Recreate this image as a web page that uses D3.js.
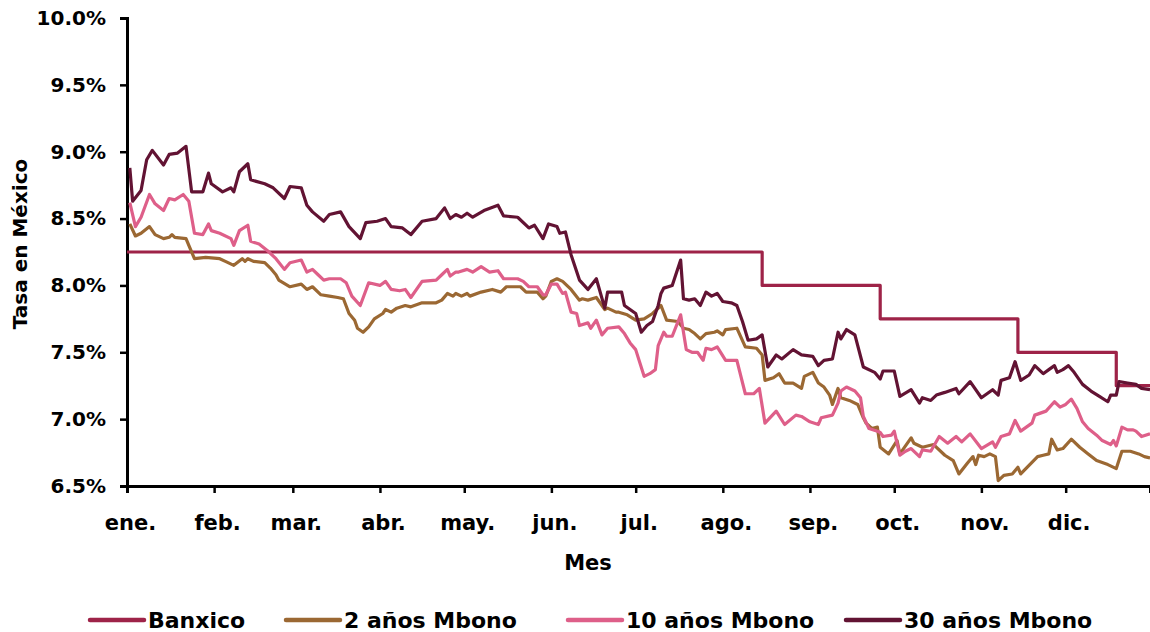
<!DOCTYPE html>
<html><head><meta charset="utf-8">
<script src="https://cdn.jsdelivr.net/npm/d3@7"></script>
<style>
body{margin:0;background:#fff}
svg{display:block}
text{font-family:"DejaVu Sans",sans-serif;font-weight:bold;fill:#000}
</style>
</head><body>
<svg id="c" width="1150" height="632"></svg>
<script>
// Categories: months (2019) and y tick values
const meses = ["ene.","feb.","mar.","abr.","may.","jun.","jul.","ago.","sep.","oct.","nov.","dic."];
const yTicks = [6.5,7.0,7.5,8.0,8.5,9.0,9.5,10.0];
const serieNombres = ["Banxico","2 años Mbono","10 años Mbono","30 años Mbono"];

// Day of year (2019) and rate (%) per series
const diasBanxico = [1,227,269,318,353,365];
const tasaBanxico = [8.25,8.00,7.75,7.50,7.25,7.25];

const dias2 = [2,4,6,9,11,14,16,17,18,22,23,25,29,34,36,39,42,43,44,46,50,52,54,55,59,63,65,67,70,73,76,78,80,82,83,85,87,89,92,93,95,97,100,102,106,111,113,115,117,118,120,122,123,127,131,134,136,141,143,147,149,150,152,154,156,159,162,163,165,168,171,172,175,176,179,182,185,188,191,193,197,199,201,203,205,207,210,211,213,214,218,221,225,227,228,231,233,235,238,241,242,245,247,249,251,252,254,255,258,261,263,264,266,268,269,272,275,276,280,281,284,288,292,295,297,300,302,303,304,306,308,310,311,313,316,318,319,325,327,329,330,332,334,337,340,343,346,350,353,355,358,361,363,365];
const tasa2 = [8.46,8.37,8.39,8.44,8.38,8.35,8.36,8.38,8.36,8.35,8.30,8.20,8.21,8.20,8.18,8.15,8.20,8.18,8.20,8.18,8.17,8.13,8.08,8.04,7.99,8.01,7.97,7.99,7.93,7.92,7.91,7.90,7.79,7.74,7.68,7.65,7.69,7.75,7.79,7.82,7.80,7.83,7.85,7.84,7.87,7.87,7.89,7.94,7.92,7.94,7.92,7.94,7.92,7.95,7.97,7.95,7.99,7.99,7.95,7.95,7.90,7.92,8.03,8.05,8.03,7.97,7.89,7.90,7.89,7.91,7.82,7.83,7.80,7.80,7.78,7.74,7.75,7.79,7.85,7.74,7.73,7.68,7.67,7.64,7.60,7.64,7.65,7.66,7.63,7.67,7.68,7.54,7.53,7.48,7.29,7.31,7.34,7.27,7.27,7.23,7.32,7.35,7.27,7.24,7.18,7.11,7.23,7.16,7.14,7.11,7.01,6.97,6.93,6.94,6.79,6.74,6.84,6.74,6.86,6.82,6.79,6.81,6.73,6.69,6.59,6.67,6.72,6.66,6.73,6.72,6.74,6.72,6.54,6.58,6.59,6.64,6.59,6.72,6.73,6.74,6.85,6.77,6.78,6.85,6.79,6.74,6.69,6.66,6.63,6.76,6.76,6.74,6.72,6.71];

const dias10 = [2,4,6,9,11,14,16,18,21,23,25,28,30,31,34,38,39,41,44,45,48,51,54,57,59,63,65,67,69,71,73,77,79,81,84,87,91,93,95,98,100,102,106,111,113,115,116,118,119,122,124,127,130,133,135,140,142,144,147,149,150,152,154,156,157,159,161,162,165,166,168,170,172,176,178,180,182,185,187,189,190,192,193,195,198,200,202,204,206,207,209,211,214,218,221,224,226,228,232,235,239,241,244,247,248,252,254,255,257,260,262,263,265,268,269,270,273,274,276,278,280,283,284,287,290,293,296,298,301,305,309,310,312,315,317,319,323,324,328,331,333,335,337,339,341,343,346,348,351,352,353,355,357,359,360,362,365];
const tasa10 = [8.62,8.44,8.51,8.68,8.61,8.56,8.65,8.64,8.68,8.63,8.39,8.38,8.46,8.41,8.39,8.35,8.30,8.41,8.45,8.33,8.31,8.26,8.20,8.12,8.17,8.19,8.10,8.12,8.08,8.04,8.05,8.05,8.02,7.92,7.85,8.02,8.00,8.03,7.97,7.96,7.97,7.91,8.03,8.04,8.08,8.12,8.07,8.10,8.10,8.12,8.10,8.14,8.10,8.11,8.05,8.05,8.03,7.99,7.99,7.93,7.93,8.01,8.01,7.94,7.95,7.80,7.79,7.70,7.72,7.68,7.74,7.63,7.68,7.69,7.64,7.57,7.52,7.32,7.34,7.37,7.55,7.65,7.62,7.62,7.78,7.52,7.50,7.50,7.44,7.53,7.52,7.54,7.44,7.44,7.19,7.19,7.23,6.97,7.06,6.96,7.03,7.02,6.98,6.96,7.01,7.03,7.12,7.21,7.24,7.21,7.16,7.02,6.93,6.91,6.90,6.87,6.88,6.91,6.73,6.76,6.78,6.72,6.77,6.76,6.87,6.82,6.87,6.83,6.89,6.78,6.83,6.79,6.87,6.89,6.99,6.91,6.97,7.03,7.06,7.13,7.09,7.11,7.15,7.08,6.98,6.93,6.88,6.84,6.81,6.84,6.80,6.94,6.92,6.92,6.91,6.87,6.89];

const dias30 = [2,3,6,8,10,14,16,19,22,24,28,30,31,35,38,39,41,44,45,50,53,57,59,63,65,67,71,73,77,80,84,86,90,93,95,99,102,106,111,114,116,118,120,122,124,128,133,135,140,144,146,149,151,154,155,157,159,162,165,168,171,172,177,178,182,184,186,188,190,191,192,195,198,199,201,203,205,207,209,211,213,216,218,220,222,225,227,229,232,234,238,241,245,247,249,252,254,255,257,260,263,267,269,270,274,276,280,283,284,287,289,292,296,297,301,305,309,311,312,315,317,319,322,324,327,329,331,332,334,336,338,341,344,347,350,351,353,354,357,360,362,365];
const tasa30 = [8.88,8.63,8.71,8.94,9.01,8.90,8.98,8.99,9.04,8.70,8.70,8.84,8.76,8.70,8.73,8.70,8.85,8.91,8.79,8.76,8.73,8.65,8.74,8.73,8.60,8.55,8.48,8.53,8.55,8.44,8.35,8.47,8.48,8.50,8.44,8.43,8.38,8.48,8.50,8.58,8.50,8.53,8.51,8.54,8.51,8.56,8.60,8.52,8.51,8.43,8.45,8.35,8.46,8.44,8.39,8.40,8.23,8.04,7.97,8.05,7.83,7.95,7.95,7.85,7.79,7.65,7.70,7.73,7.85,7.94,7.98,8.00,8.19,7.90,7.89,7.90,7.85,7.95,7.92,7.94,7.88,7.87,7.85,7.73,7.59,7.60,7.63,7.39,7.48,7.45,7.52,7.48,7.47,7.40,7.44,7.45,7.65,7.60,7.67,7.63,7.39,7.35,7.30,7.36,7.36,7.17,7.22,7.12,7.16,7.14,7.18,7.20,7.23,7.19,7.28,7.16,7.22,7.18,7.29,7.31,7.43,7.29,7.33,7.40,7.34,7.37,7.40,7.35,7.37,7.40,7.35,7.26,7.21,7.17,7.13,7.18,7.18,7.28,7.27,7.26,7.23,7.22];

const colores = ["#9E2348","#9B6833","#DE5F89","#621333"];

// ---- drawing ----
const svg = d3.select("#c");
const W = 1150, H = 632;
const m = {left:127, right:0, top:18, bottom:146};
const inicio = new Date(2019,0,1), fin = new Date(2019,11,31);
const fecha = j => d3.timeDay.offset(inicio, j-1);

const x = d3.scaleTime().domain([inicio, fin]).range([m.left, W - m.right]);
const y = d3.scaleLinear().domain([6.5, 10]).range([H - m.bottom, m.top]);

const series = [
  {dias: diasBanxico, tasa: tasaBanxico, step: true},
  {dias: dias2, tasa: tasa2},
  {dias: dias10, tasa: tasa10},
  {dias: dias30, tasa: tasa30}
].map((s,i)=>({name: serieNombres[i], color: colores[i], step: !!s.step,
   values: d3.zip(s.dias, s.tasa).map(([d,v])=>({date: fecha(d), v}))}));

// axes
const fmt = d => d.toFixed(1) + "%";
const yAxis = d3.axisLeft(y).tickValues(yTicks).tickFormat(fmt).tickSize(7).tickPadding(14);
const gy = svg.append("g").attr("transform", `translate(${m.left},0)`).call(yAxis);
gy.selectAll("text").style("font-size","20px");

const monthStarts = d3.range(12).map(i => new Date(2019, i, 1));
const xAxis = d3.axisBottom(x).tickValues(monthStarts).tickFormat(d => meses[d.getMonth()]).tickSize(7).tickPadding(22);
const gx = svg.append("g").attr("transform", `translate(0,${H - m.bottom})`).call(xAxis);
gx.selectAll("text").style("font-size","21px").attr("dx","3");

[gx, gy].forEach(g => {
  g.select(".domain").attr("stroke","#000").attr("stroke-width",3);
  g.selectAll(".tick line").attr("stroke","#000").attr("stroke-width",2.5);
});

// lines
const clip = svg.append("g");
series.forEach(s => {
  const line = d3.line().x(d => x(d.date)).y(d => y(d.v))
     .curve(s.step ? d3.curveStepAfter : d3.curveLinear);
  clip.append("path").datum(s.values)
    .attr("fill","none").attr("stroke", s.color).attr("stroke-width", 3.2)
    .attr("stroke-linejoin","round").attr("d", line);
});
// draw Banxico on top? keep order but Banxico first like reference
// axis titles
svg.append("text").attr("x", 588).attr("y", 570).attr("text-anchor","middle")
  .style("font-size","21px").text("Mes");
svg.append("text").attr("transform","translate(27,244) rotate(-90)").attr("text-anchor","middle")
  .style("font-size","20px").text("Tasa en México");

// legend
const legX = [90, 286, 568, 846];
const lg = svg.append("g");
series.forEach((s,i) => {
  const g = lg.append("g").attr("transform", `translate(${legX[i]},620)`);
  g.append("line").attr("x1",0).attr("x2",54).attr("y1",0).attr("y2",0)
    .attr("stroke", s.color).attr("stroke-width",4.5).attr("stroke-linecap","round");
  g.append("text").attr("x",58).attr("y",7.5).style("font-size","22px").text(s.name);
});
</script>
</body></html>
